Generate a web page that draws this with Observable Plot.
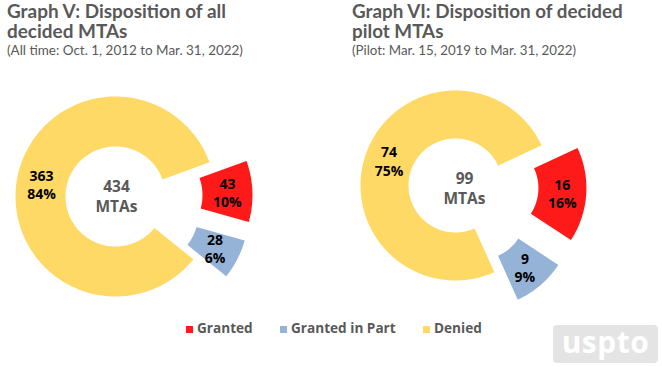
<!DOCTYPE html>
<html>
<head>
<meta charset="utf-8">
<script src="https://cdn.jsdelivr.net/npm/d3@7"></script>
<script src="https://cdn.jsdelivr.net/npm/@observablehq/plot@0.6"></script>
<style>
  html, body { margin: 0; padding: 0; background: #fff; }
  #wrap { position: relative; width: 662px; height: 367px; overflow: hidden; font-family: "Open Sans", sans-serif; color: #595959; }
  #chart { position: absolute; left: 0; top: 0; }
  .title { position: absolute; top: 1px; font-family: Lato, sans-serif; font-weight: 700; line-height: 20px; white-space: pre; }
  .sub { position: absolute; font-family: Lato, sans-serif; font-weight: 400; line-height: 16px; white-space: nowrap; top: 42px; }
  .leg-sw { position: absolute; width: 7px; height: 7px; top: 326px; }
  .leg-tx { position: absolute; top: 320px; font-weight: 700; font-size: 13.6px; line-height: 16px; white-space: nowrap; }
  #logo { position: absolute; left: 553px; top: 325px; width: 105px; height: 38px; background: #e4e4e4; border-radius: 4px;
          color: #fff; font-weight: 700; font-size: 30px; line-height: 34px; text-align: center; letter-spacing: 0.5px; }
</style>
</head>
<body>
<div id="wrap">
  <div id="chart"></div>
</div>
<script>
// ---------------- data ----------------
const categories = ["Granted", "Granted in Part", "Denied"];
const colors = ["#FF1A1A", "#95B3D7", "#FFD966"];
const allTimeCounts = [43, 28, 363];
const pilotCounts = [16, 9, 74];
const titleLinesV = ["Graph V: Disposition of all", "decided MTAs"];
const titleLinesVI = ["Graph VI: Disposition of decided", "pilot MTAs"];
const subtitleV = "(All time: Oct. 1, 2012 to Mar. 31, 2022)";
const subtitleVI = "(Pilot: Mar. 15, 2019 to Mar. 31, 2022)";
const centerUnit = "MTAs";

// ---------------- layout ----------------
const W = 662, H = 367;
const donuts = [
  { counts: allTimeCounts, cx: 115, cy: 196, rOut: 100, rIn: 50, start: 70, explode: 37, tdx: 1, tdy: -1,
    titleLines: titleLinesV, subtitle: subtitleV, left: 7, titleW: 220, subW: 236 },
  { counts: pilotCounts, cx: 455, cy: 185, rOut: 95, rIn: 47, start: 65, explode: 36, tdx: 9, tdy: 2,
    titleLines: titleLinesVI, subtitle: subtitleVI, left: 352, titleW: 272, subW: 224 }
];

const rad = Math.PI / 180;
const polys = [], labels = [], centers = [];
donuts.forEach((d, di) => {
  const total = d3.sum(d.counts);
  let a = d.start;
  d.counts.forEach((v, i) => {
    const span = v / total * 360;
    const a0 = a, a1 = a + span; a = a1;
    const mid = (a0 + a1) / 2 * rad;
    const off = categories[i] === "Denied" ? 0 : d.explode;
    const ox = d.cx + off * Math.sin(mid), oy = d.cy - off * Math.cos(mid);
    const N = Math.max(6, Math.ceil(span));
    const key = di + "-" + i;
    for (let k = 0; k <= N; k++) {
      const t = (a0 + (a1 - a0) * k / N) * rad;
      polys.push({ key, cat: categories[i], x: ox + d.rOut * Math.sin(t), y: oy - d.rOut * Math.cos(t) });
    }
    for (let k = N; k >= 0; k--) {
      const t = (a0 + (a1 - a0) * k / N) * rad;
      polys.push({ key, cat: categories[i], x: ox + d.rIn * Math.sin(t), y: oy - d.rIn * Math.cos(t) });
    }
    const rm = (d.rOut + d.rIn) / 2;
    labels.push({ x: ox + rm * Math.sin(mid), y: oy - rm * Math.cos(mid),
                  text: v + "\n" + Math.round(v / total * 100) + "%" });
  });
  centers.push({ x: d.cx + d.tdx, y: d.cy + d.tdy, text: total + "\n" + centerUnit });
});

const plot = Plot.plot({
  width: W, height: H, margin: 0,
  style: { fontFamily: "Open Sans", background: "transparent" },
  x: { domain: [0, W], range: [0, W], axis: null },
  y: { domain: [0, H], range: [0, H], axis: null },
  color: { domain: categories, range: colors },
  marks: [
    Plot.line(polys, { x: "x", y: "y", z: "key", fill: "cat", stroke: "none", curve: "linear-closed" }),
    Plot.text(labels, { x: "x", y: "y", text: "text", fill: "#000", fontWeight: 700, fontSize: 14, lineHeight: 1.3, fontFamily: "Open Sans" }),
    Plot.text(centers, { x: "x", y: "y", text: "text", fill: "#595959", fontWeight: 700, fontSize: 15.5, lineHeight: 1.3, fontFamily: "Open Sans" })
  ]
});
document.getElementById("chart").appendChild(plot);

// ---------------- titles / legend / logo ----------------
const wrap = document.getElementById("wrap");
const cv = document.createElement("canvas").getContext("2d");
function fitSize(text, weight, target) {
  cv.font = weight + ' 100px Lato';
  return 100 * target / cv.measureText(text).width;
}
donuts.forEach(d => {
  const el = document.createElement("div");
  el.className = "title";
  el.textContent = d.titleLines.join("\n");
  el.style.left = d.left + "px";
  el.style.fontSize = fitSize(d.titleLines[0], 700, d.titleW).toFixed(2) + "px";
  wrap.appendChild(el);
  const s = document.createElement("div");
  s.className = "sub";
  s.textContent = d.subtitle;
  s.style.left = d.left + "px";
  s.style.fontSize = fitSize(d.subtitle, 400, d.subW).toFixed(2) + "px";
  wrap.appendChild(s);
});

const legendX = [186, 280, 423];
categories.forEach((c, i) => {
  const sw = document.createElement("div");
  sw.className = "leg-sw";
  sw.style.left = legendX[i] + "px";
  sw.style.background = colors[i];
  wrap.appendChild(sw);
  const tx = document.createElement("div");
  tx.className = "leg-tx";
  tx.style.left = (legendX[i] + 11) + "px";
  tx.textContent = c;
  wrap.appendChild(tx);
});

const logo = document.createElement("div");
logo.id = "logo";
logo.textContent = "uspto";
wrap.appendChild(logo);
</script>
</body>
</html>
